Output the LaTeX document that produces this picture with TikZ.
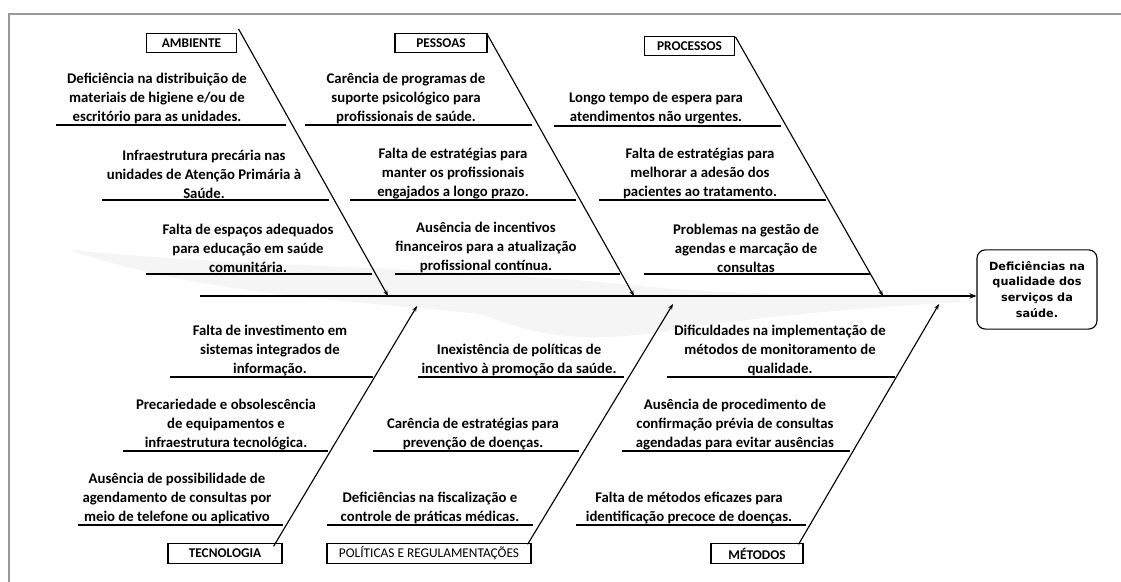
\documentclass[tikz,border=0pt]{standalone}
\usepackage{fontspec}
\setmainfont{Carlito}
\newfontfamily\effectfont{DejaVu Sans}
\usetikzlibrary{arrows.meta}
\begin{document}
\begin{tikzpicture}[x=0.025cm,y=-0.025cm]
        \tikzstyle{cause}=[anchor=south,align=center,inner sep=0pt,font=\fontsize{10.5}{13.4}\selectfont\bfseries]
        \tikzstyle{catbox}=[draw=black,thick,inner sep=0pt,minimum height=0.48cm,font=\fontsize{9.5}{11}\selectfont\bfseries]
        \tikzstyle{uline}=[thick]
        \tikzstyle{bone}=[thick,-{Stealth[length=4pt,width=3pt]}]

        \useasboundingbox (0,0) rectangle (1121,582);
        \fill[white] (0,0) rectangle (1121,582);
        \fill[black!4] (70,250) .. controls (250,268) and (450,266) .. (640,286) .. controls (760,298) and (880,293) .. (960,296) -- (960,302) .. controls (860,308) and (760,316) .. (660,332) .. controls (570,345) and (530,332) .. (480,314) .. controls (350,300) and (200,295) .. (70,250);
        \draw[black!40,line width=2pt] (9,582) -- (9,14) -- (1121,14);

        \node (amb)[catbox,minimum width=2.27cm] at (191.5,43) {AMBIENTE};
        \node (pes)[catbox,minimum width=2.3cm] at (441,43) {PESSOAS};
        \node (pro)[catbox,minimum width=2.27cm] at (689.5,46) {PROCESSOS};
        \node (tec)[catbox,minimum width=2.85cm] at (225,553.5) {TECNOLOGIA};
        \node (pol)[catbox,minimum width=5.1cm,font=\fontsize{9.5}{11}\selectfont] at (429,553.5) {POLÍTICAS E REGULAMENTAÇÕES};
        \node (met)[catbox,minimum width=2.3cm] at (757,553.5) {MÉTODOS};
        \node (eff)[draw=black,thick,rounded corners=6pt,minimum width=3cm,minimum height=1.98cm,align=center,inner sep=0pt,font=\effectfont\fontsize{8}{11.3}\selectfont\bfseries] at (1037,289.5) {Deficiências na\\qualidade dos\\serviços da\\saúde.};

        \coordinate (s) at (200,296);
        \coordinate (a1) at (388,296);
        \coordinate (p1) at (634,296);
        \coordinate (r1) at (883,296);
        \coordinate (t1) at (417,306);
        \coordinate (l1) at (673,304);
        \coordinate (m1) at (939,304);

        \draw[thick,-{Stealth[length=5pt,width=4pt]}] (s) -- (s -| eff.west);
        \draw[bone] (amb.north east) ++(1,-4) -- (a1);
        \draw[bone] (pes.north east) ++(0,2) -- (p1);
        \draw[bone] (pro.north east) ++(0,1) -- (r1);
        \draw[bone] (tec.north east) ++(-9,3) -- (t1);
        \draw[bone] (pol.north east) ++(-4,1) -- (l1);
        \draw[bone] (met.north east) ++(-5,1) -- (m1);

        \node (c1)[cause] at (157,124) {Deficiência na distribuição de\\materiais de higiene e/ou de\\escritório para as unidades.};
        \node (c2)[cause] at (204,199) {Infraestrutura precária nas\\unidades de Atenção Primária à\\Saúde.};
        \node (c3)[cause] at (248,273) {Falta de espaços adequados\\para educação em saúde\\comunitária.};
        \draw[uline] (56,125) -- (286,125);
        \draw[uline] (102,200) -- (329,200);
        \draw[uline] (146,274) -- (372,274);

        \node (c4)[cause] at (406,124) {Carência de programas de\\suporte psicológico para\\profissionais de saúde.};
        \node (c5)[cause] at (453,199) {Falta de estratégias para\\manter os profissionais\\engajados a longo prazo.};
        \node (c6)[cause] at (486,273) {Ausência de incentivos\\financeiros para a atualização\\profissional contínua.};
        \draw[uline] (305,125) -- (532,125);
        \draw[uline] (350,200) -- (576,200);
        \draw[uline] (395,274) -- (620,274);

        \node (c7)[cause] at (656,124) {Longo tempo de espera para\\atendimentos não urgentes.};
        \node (c8)[cause] at (700,199) {Falta de estratégias para\\melhorar a adesão dos\\pacientes ao tratamento.};
        \node (c9)[cause] at (746,273) {Problemas na gestão de\\agendas e marcação de\\consultas};
        \draw[uline] (554,126) -- (781,126);
        \draw[uline] (599,200) -- (826,200);
        \draw[uline] (644,274) -- (870,274);

        \node (d1)[cause] at (270,376) {Falta de investimento em\\sistemas integrados de\\informação.};
        \node (d2)[cause] at (226,450) {Precariedade e obsolescência\\de equipamentos e\\infraestrutura tecnológica.};
        \node (d3)[cause] at (177,524) {Ausência de possibilidade de\\agendamento de consultas por\\meio de telefone ou aplicativo};
        \draw[uline] (170,377) -- (373,377);
        \draw[uline] (123,451) -- (328,451);
        \draw[uline] (78,525) -- (283,525);

        \node (d4)[cause] at (519,376) {Inexistência de políticas de\\incentivo à promoção da saúde.};
        \node (d5)[cause] at (473,450) {Carência de estratégias para\\prevenção de doenças.};
        \node (d6)[cause] at (430,524) {Deficiências na fiscalização e\\controle de práticas médicas.};
        \draw[uline] (418,377) -- (624,377);
        \draw[uline] (373,451) -- (579,451);
        \draw[uline] (327,525) -- (533,525);

        \node (d7)[cause] at (780,376) {Dificuldades na implementação de\\métodos de monitoramento de\\qualidade.};
        \node (d8)[cause] at (735,450) {Ausência de procedimento de\\confirmação prévia de consultas\\agendadas para evitar ausências};
        \node (d9)[cause] at (689,524) {Falta de métodos eficazes para\\identificação precoce de doenças.};
        \draw[uline] (667,377) -- (895,377);
        \draw[uline] (622,451) -- (850,451);
        \draw[uline] (576,525) -- (806,525);
    \end{tikzpicture}
\end{document}
